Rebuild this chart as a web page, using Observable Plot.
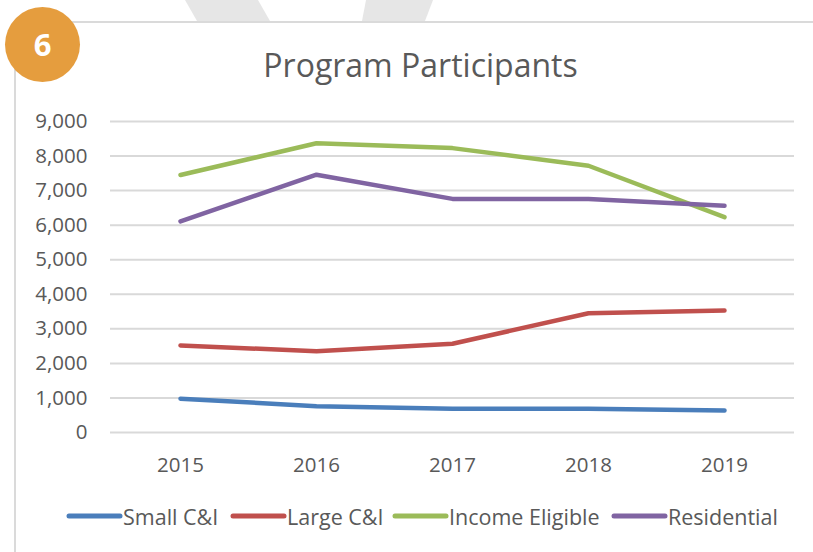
<!DOCTYPE html>
<html>
<head>
<meta charset="utf-8">
<script src="https://cdn.jsdelivr.net/npm/d3@7"></script>
<script src="https://cdn.jsdelivr.net/npm/@observablehq/plot@0.6"></script>
<style>
  html, body { margin: 0; padding: 0; background: #fff; }
  #page { position: relative; width: 813px; height: 552px; overflow: hidden; background: #fff; font-family: "Open Sans", sans-serif; }
  #frame { position: absolute; left: 14px; top: 21px; width: 900px; height: 700px; border-top: 2px solid #dadada; border-left: 2px solid #dadada; }
  #badge { position: absolute; left: 5px; top: 7px; width: 75px; height: 75px; border-radius: 50%; background: #E59D3E; color: #fff; font-weight: 700; font-size: 31px; line-height: 75px; text-align: center; }
  #title { position: absolute; left: 0; width: 841px; top: 43px; text-align: center; color: #595959; font-size: 32px; }
  #chart { position: absolute; left: 0; top: 100px; }
  #legend { position: absolute; left: 0; top: 501px; width: 813px; height: 30px; color: #595959; font-size: 21.5px; }
  .item { position: absolute; top: 0; display: flex; align-items: center; white-space: nowrap; height: 30px; }
  .item svg { display: block; }
</style>
</head>
<body>
<div id="page">
  <svg id="deco" width="813" height="22" style="position:absolute;left:0;top:0">
    <polygon points="185,0 258,0 270,21 197,21" fill="#e6e6e6"></polygon>
    <polygon points="366,0 433,0 425,21 362,21" fill="#e6e6e6"></polygon>
  </svg>
  <div id="frame"></div>
  <div id="badge">6</div>
  <div id="title">Program Participants</div>
  <div id="chart"></div>
  <div id="legend"></div>
</div>
<script>
const years = ["2015", "2016", "2017", "2018", "2019"];
const seriesNames = ["Small C&I", "Large C&I", "Income Eligible", "Residential"];
const smallCI = [980, 760, 690, 690, 640];
const largeCI = [2520, 2350, 2570, 3450, 3530];
const incomeEligible = [7450, 8370, 8230, 7720, 6230];
const residential = [6110, 7460, 6760, 6760, 6560];
const colors = ["#4A7EBB", "#C0504D", "#9BBB59", "#8064A2"];
const yTicks = [0, 1000, 2000, 3000, 4000, 5000, 6000, 7000, 8000, 9000];

const seriesValues = [smallCI, largeCI, incomeEligible, residential];
const data = [];
seriesNames.forEach((name, i) => {
  years.forEach((yr, j) => data.push({series: name, year: yr, value: seriesValues[i][j]}));
});

const fmt = d3.format(",");
const plot = Plot.plot({
  width: 813,
  height: 380,
  marginLeft: 110,
  marginRight: 19,
  marginTop: 21,
  marginBottom: 48,
  style: {background: "transparent", fontFamily: "'Open Sans', sans-serif", fontSize: "20.5px", color: "#595959"},
  x: {type: "point", domain: years, padding: 0.5},
  y: {domain: [0, 9000]},
  color: {domain: seriesNames, range: colors},
  marks: [
    Plot.ruleY(yTicks, {stroke: "#d9d9d9", strokeWidth: 2}),
    Plot.axisY({ticks: yTicks, tickSize: 0, tickPadding: 23, tickFormat: fmt, label: null, fill: "#595959"}),
    Plot.axisX({tickSize: 0, tickPadding: 25, label: null, fill: "#595959"}),
    Plot.line(data, {x: "year", y: "value", z: "series", stroke: "series", strokeWidth: 4.5, strokeLinecap: "round", strokeLinejoin: "round"})
  ]
});
document.getElementById("chart").appendChild(plot);

const legendLeft = [66, 230, 392, 611];
const legend = document.getElementById("legend");
seriesNames.forEach((name, i) => {
  const item = document.createElement("div");
  item.className = "item";
  item.style.left = legendLeft[i] + "px";
  item.innerHTML = `<svg width="57" height="8"><line x1="3" y1="4" x2="54" y2="4" stroke="${colors[i]}" stroke-width="5" stroke-linecap="round"/></svg><span>${name.replace("&", "&amp;")}</span>`;
  legend.appendChild(item);
});
</script>
</body>
</html>
